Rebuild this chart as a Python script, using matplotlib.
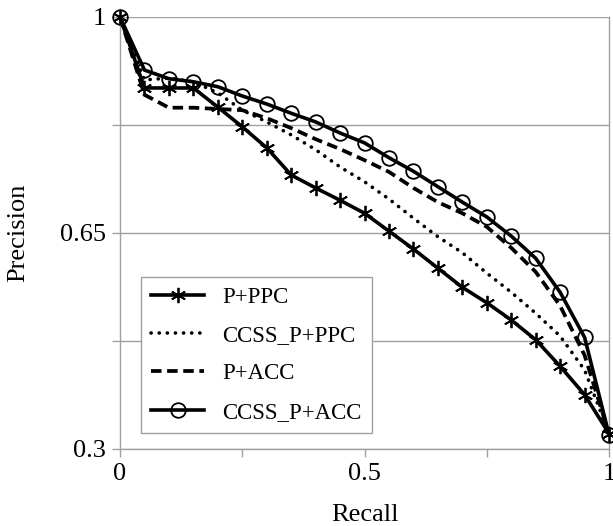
import numpy as np
import matplotlib.pyplot as plt
from matplotlib.lines import Line2D

plt.rcParams["font.family"] = ["Liberation Serif", "DejaVu Serif"]

# recall levels and precision per method
recall = [0, 0.05, 0.1, 0.15, 0.2, 0.25, 0.3, 0.35, 0.4, 0.45, 0.5,
          0.55, 0.6, 0.65, 0.7, 0.75, 0.8, 0.85, 0.9, 0.95, 1.0]
p_ppc = [1.0, 0.885, 0.885, 0.885, 0.854, 0.822, 0.788, 0.744, 0.723, 0.703, 0.682,
         0.653, 0.624, 0.593, 0.562, 0.537, 0.509, 0.477, 0.434, 0.388, 0.325]
ccss_ppc = [1.0, 0.898, 0.901, 0.895, 0.877, 0.849, 0.830, 0.809, 0.785, 0.757, 0.733,
            0.705, 0.674, 0.644, 0.618, 0.585, 0.554, 0.520, 0.483, 0.428, 0.325]
p_acc = [1.0, 0.874, 0.853, 0.853, 0.851, 0.849, 0.836, 0.820, 0.802, 0.786, 0.768,
         0.749, 0.723, 0.700, 0.682, 0.660, 0.626, 0.587, 0.532, 0.452, 0.325]
ccss_acc = [1.0, 0.914, 0.900, 0.895, 0.887, 0.872, 0.859, 0.844, 0.830, 0.812, 0.796,
            0.772, 0.750, 0.725, 0.700, 0.676, 0.645, 0.609, 0.554, 0.481, 0.323]
labels = ["P+PPC", "CCSS_P+PPC", "P+ACC", "CCSS_P+ACC"]

fig = plt.figure(figsize=(6.13, 5.26), dpi=100)
ax = fig.add_axes([0.1958, 0.1464, 0.7977, 0.8213])

grey = "#a0a0a0"
star = (6, 2, 0)
dot_ls = (0, (0.05, 2.2))
dash_ls = (0, (2.8, 1.5))
ax.plot(recall, p_ppc, c="k", lw=2.6, marker=star, ms=11, mew=1.3, clip_on=False, zorder=3)
ax.plot(recall, ccss_ppc, c="k", lw=2.6, ls=dot_ls, dash_capstyle="round", clip_on=False, zorder=3)
ax.plot(recall, p_acc, c="k", lw=2.7, ls=dash_ls, clip_on=False, zorder=3)
ax.plot(recall, ccss_acc, c="k", lw=2.6, marker="o", ms=10.5, mfc="none", mew=1.3, clip_on=False, zorder=3)

ax.set_xlim(0, 1)
ax.set_ylim(0.3, 1)
ax.set_xticks([0, 0.25, 0.5, 0.75, 1])
ax.set_xticklabels(["0", "", "0.5", "", "1"])
ax.set_yticks([0.3, 0.475, 0.65, 0.825, 1])
ax.set_yticklabels(["0.3", "", "0.65", "", "1"])
ax.tick_params(direction="out", length=6, width=1, color=grey, labelsize=19, pad=4)
ax.yaxis.grid(True, color=grey, lw=1)
for s in ["left", "bottom", "right"]:
    ax.spines[s].set_color(grey)
    ax.spines[s].set_linewidth(1)
ax.spines["top"].set_visible(False)
ax.set_xlabel("Recall", fontsize=19, labelpad=14)
ax.set_ylabel("Precision", fontsize=19, labelpad=22)

handles = [
    Line2D([], [], c="k", lw=2.6, marker=star, ms=11, mew=1.3),
    Line2D([], [], c="k", lw=2.6, ls=dot_ls, dash_capstyle="round"),
    Line2D([], [], c="k", lw=2.7, ls=dash_ls),
    Line2D([], [], c="k", lw=2.6, marker="o", ms=10.5, mfc="none", mew=1.3),
]
leg = ax.legend(handles, labels, loc="lower left", bbox_to_anchor=(0.043, 0.037),
                borderaxespad=0, fontsize=16.5, handlelength=2.3, fancybox=False,
                edgecolor=grey, framealpha=1, labelspacing=0.75, handletextpad=0.8,
                borderpad=0.45)
leg.get_frame().set_linewidth(1)

fig.savefig("out.png", dpi=100)
